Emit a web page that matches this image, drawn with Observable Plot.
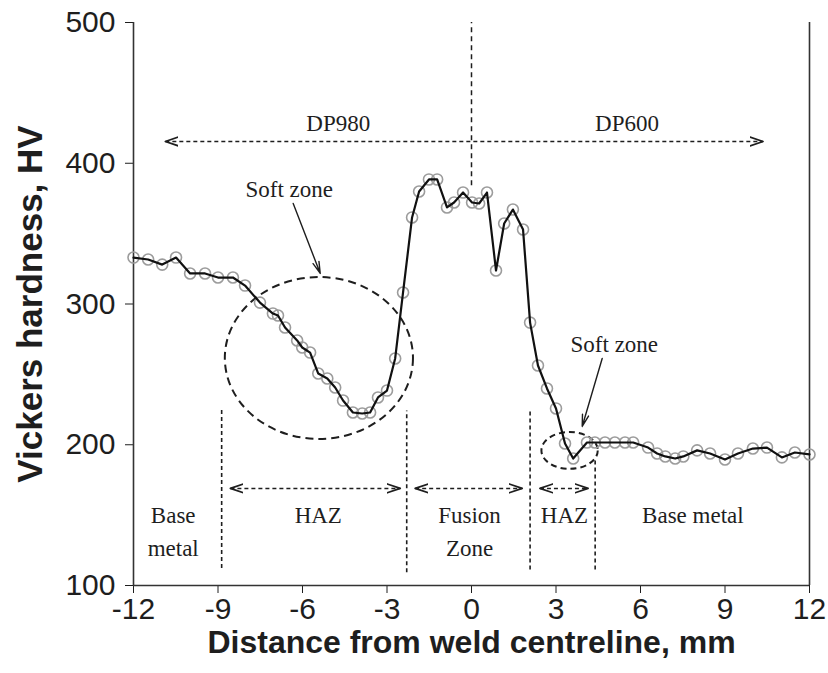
<!DOCTYPE html>
<html><head><meta charset="utf-8">
<script src="https://cdn.jsdelivr.net/npm/d3@7"></script>
<script src="https://cdn.jsdelivr.net/npm/@observablehq/plot@0.6"></script>
<style>html,body{margin:0;padding:0;background:#fff} #chart svg{display:block}</style>
</head><body><div id="chart"></div>
<script>
// ---- measured hardness profile ----
const distance = [-12.0,-11.48,-10.98,-10.49,-9.99,-9.46,-9.0,-8.47,-8.04,-7.51,-7.05,-6.87,-6.62,-6.19,-6.01,-5.73,-5.44,-5.12,-4.84,-4.56,-4.21,-3.88,-3.60,-3.32,-3.0,-2.71,-2.43,-2.11,-1.86,-1.51,-1.22,-0.87,-0.62,-0.30,0.02,0.27,0.55,0.87,1.16,1.47,1.83,2.08,2.36,2.68,3.0,3.32,3.61,4.10,4.38,4.74,5.09,5.45,5.74,6.27,6.59,6.88,7.23,7.52,8.01,8.47,9.0,9.46,9.99,10.49,11.02,11.48,12.0];
const hardness = [333,331.6,328,333,321.7,321.7,318.8,318.8,313.1,301,293.2,291.8,283.3,274.1,269.1,265.5,250.6,247.1,240.7,231.4,222.9,222.2,222.9,233.6,238.5,261.3,308.2,361.5,379.9,388.5,388.5,368.6,372.1,379.2,372.1,371.4,379.2,323.8,357.2,367.1,352.9,286.8,256.3,240,225.8,200.9,190.2,201.6,201.6,201.6,201.6,201.6,201.6,198,193.8,191.7,190.2,191.7,196,193.8,189.5,193.8,197.3,198,191,194.5,193.1];

const xTicks = [-12,-9,-6,-3,0,3,6,9,12];
const yTicks = [100,200,300,400,500];
const xTitle = "Distance from weld centreline, mm";
const yTitle = "Vickers hardness, HV";

// ---- annotations (in data units) ----
const steelLabels = ["DP980","DP600"];
const steelLabelX = [-4.73, 5.52];
const steelLabelY = [422.6, 422.6];
const steelArrowX = [-10.87, 10.35];
const steelArrowY = 415.5;
const centreLineY = [384, 500];

const boundaryX = [-8.87, -2.30, 2.08, 4.39];
const boundaryTop = [226, 224, 224, 190];
const boundaryBottom = [112, 109, 111, 111];

const zoneArrowStart = [-8.56, -2.0, 2.43];
const zoneArrowEnd = [-2.53, 1.8, 4.14];
const zoneArrowY = 169;

const zoneLabels = ["Base\nmetal","HAZ","Fusion\nZone","HAZ","Base metal"];
const zoneLabelX = [-10.59, -5.44, -0.07, 3.3, 7.86];
const zoneLabelY = [121.3, 144.7, 121.3, 144.7, 144.7];

const softLabels = ["Soft zone","Soft zone"];
const softLabelX = [-6.47, 5.07];
const softLabelY = [375.7, 265.6];
const softArrowX1 = [-6.33, 4.64], softArrowY1 = [371.4, 261.3];
const softArrowX2 = [-5.37, 3.93], softArrowY2 = [321.7, 213];

const ellipseCx = [-5.4, 3.5], ellipseCy = [261.3, 195.6];
const ellipseRx = [3.34, 1.0], ellipseRy = [57.5, 13.1];

// ---- tables ----
const points = distance.map((x, i) => ({x, y: hardness[i]}));
const boundaries = boundaryX.map((x, i) => ({x, y1: boundaryBottom[i], y2: boundaryTop[i]}));
const zoneArrows = zoneArrowStart.map((x1, i) => ({x1, x2: zoneArrowEnd[i], y: zoneArrowY}));
const zones = zoneLabels.map((t, i) => ({t, x: zoneLabelX[i], y: zoneLabelY[i]}));
const steels = steelLabels.map((t, i) => ({t, x: steelLabelX[i], y: steelLabelY[i]}));
const softs = softLabels.map((t, i) => ({t, x: softLabelX[i], y: softLabelY[i]}));
const softArrows = softArrowX1.map((x1, i) => ({x1, y1: softArrowY1[i], x2: softArrowX2[i], y2: softArrowY2[i]}));

const serif = "Liberation Serif, Times New Roman, serif";
const ink = "#1e1e1e";

function ellipseMark(index, scales) {
  const g = d3.create("svg:g").attr("fill", "none").attr("stroke", ink).attr("stroke-width", 2);
  ellipseCx.forEach((cx, i) => {
    const x0 = scales.x(cx), y0 = scales.y(ellipseCy[i]);
    const rx = Math.abs(scales.x(cx + ellipseRx[i]) - x0);
    const ry = Math.abs(scales.y(ellipseCy[i] + ellipseRy[i]) - y0);
    g.append("ellipse").attr("cx", x0).attr("cy", y0).attr("rx", rx).attr("ry", ry)
      .attr("stroke-dasharray", i ? "6,4" : "8,5");
  });
  return g.node();
}

const svg = Plot.plot({
  width: 828, height: 673,
  marginTop: 22, marginRight: 19, marginBottom: 88, marginLeft: 133,
  style: {fontFamily: "Liberation Sans, Arial, sans-serif", fontSize: "30px", color: ink, background: "#fff"},
  x: {domain: [-12, 12], ticks: xTicks, tickSize: 8, tickPadding: 4, tickFormat: d => `${d}`, label: null},
  y: {domain: [100, 500], ticks: yTicks, tickSize: 8, tickPadding: 10, tickFormat: d => `${d}`, label: null},
  marks: [
    // frame (left, bottom, right)
    Plot.ruleX([-12, 12], {stroke: "#333", strokeWidth: 1.6}),
    Plot.ruleY([100], {stroke: "#333", strokeWidth: 1.6}),
    // centre line & steel arrow
    Plot.ruleX([0], {y1: centreLineY[0], y2: centreLineY[1], stroke: ink, strokeWidth: 1.5, strokeDasharray: "5,4"}),
    Plot.link([0], {x1: steelArrowX[0], x2: steelArrowX[1], y1: steelArrowY, y2: steelArrowY,
      stroke: ink, strokeWidth: 1.5, strokeDasharray: "4,3", markerStart: "arrow", markerEnd: "arrow"}),
    Plot.text(steels, {x: "x", y: "y", text: "t", fontFamily: serif, fontSize: 23, fill: ink, lineAnchor: "bottom"}),
    // zone boundaries
    Plot.ruleX(boundaries, {x: "x", y1: "y1", y2: "y2", stroke: ink, strokeWidth: 1.6, strokeDasharray: "4,3"}),
    Plot.link(zoneArrows, {x1: "x1", x2: "x2", y1: "y", y2: "y", stroke: ink, strokeWidth: 1.5,
      strokeDasharray: "4,3", markerStart: "arrow", markerEnd: "arrow"}),
    Plot.text(zones, {x: "x", y: "y", text: "t", fontFamily: serif, fontSize: 23, fill: ink, lineAnchor: "bottom", lineHeight: 1.43}),
    // soft zones
    ellipseMark,
    Plot.text(softs, {x: "x", y: "y", text: "t", fontFamily: serif, fontSize: 23, fill: ink, lineAnchor: "bottom"}),
    Plot.arrow(softArrows, {x1: "x1", y1: "y1", x2: "x2", y2: "y2", stroke: ink, strokeWidth: 1.4, headAngle: 30, headLength: 13}),
    // data
    Plot.dot(points, {x: "x", y: "y", r: 5.5, stroke: "#9c9c9c", strokeWidth: 1.6, fill: "none"}),
    Plot.line(points, {x: "x", y: "y", stroke: "#111", strokeWidth: 2.2}),
    // axis titles
    Plot.text([yTitle], {frameAnchor: "left", dx: -103, rotate: -90, text: d => d, textAnchor: "middle", lineAnchor: "middle",
      fontSize: 35, fontWeight: "bold", fill: ink}),
    Plot.text([xTitle], {frameAnchor: "bottom", dy: 57, text: d => d, textAnchor: "middle", lineAnchor: "middle",
      fontSize: 32, fontWeight: "bold", fill: ink})
  ]
});
// enlarge the dashed-arrow heads, keep them solid, and point start heads outward
svg.querySelectorAll("marker").forEach(m => {
  m.setAttribute("orient", "auto-start-reverse");
  m.setAttribute("markerUnits", "userSpaceOnUse");
  m.setAttribute("markerWidth", "26");
  m.setAttribute("markerHeight", "26");
  m.setAttribute("stroke-width", "0.65");
  m.setAttribute("stroke-dasharray", "none");
  m.querySelectorAll("path").forEach(p => {
    p.setAttribute("d", "M-5,-1.7L0,0L-5,1.7");
    p.setAttribute("stroke-dasharray", "none");
  });
});
document.getElementById("chart").append(svg);
</script>
</body></html>
